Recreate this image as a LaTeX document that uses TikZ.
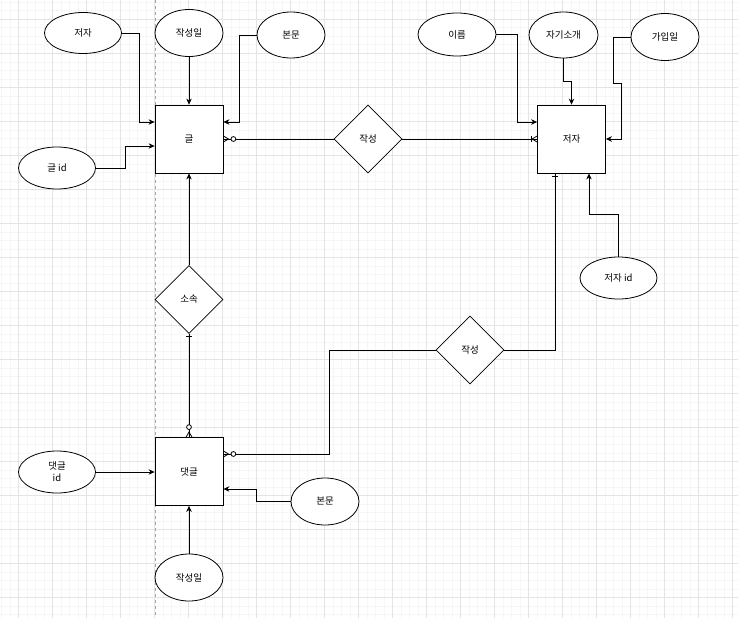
\documentclass[tikz,border=0pt]{standalone}
\usepackage{fontspec}
\newfontfamily\kr{Noto Sans CJK KR}
\usetikzlibrary{shapes.geometric,arrows.meta}
\definecolor{gridmajor}{RGB}{228,228,228}
\definecolor{gridminor}{RGB}{246,246,246}
\begin{document}
\begin{tikzpicture}[x=1pt,y=-1pt,
  every node/.style={font=\kr\fontsize{9.5}{12}\selectfont},
  conn/.style={line width=0.8pt, draw=black},
  ent/.style={conn, rectangle, minimum width=68pt, minimum height=68pt, inner sep=0pt},
  attr/.style={conn, ellipse, inner sep=0pt},
  rel/.style={conn, diamond, minimum width=68pt, minimum height=68pt, inner sep=0pt},
  arr/.style={conn, -{Stealth[length=6pt,width=5.5pt]}},
  ring/.style={conn, fill=white},
]
% background and grid
\fill[white] (0,0) rectangle (738,618);
\useasboundingbox (0,0) rectangle (738,618);
\foreach \i in {0,...,86} \draw[gridminor, line width=0.6pt] ({1.3+8.5*\i},0) -- ++(0,618);
\foreach \i in {0,...,72} \draw[gridminor, line width=0.6pt] (0,{2.3+8.5*\i}) -- ++(738,0);
\foreach \i in {0,...,21} \draw[gridmajor, line width=0.7pt] ({18.3+34.02*\i},0) -- ++(0,618);
\foreach \i in {0,...,17} \draw[gridmajor, line width=0.7pt] (0,{19.3+34*\i}) -- ++(738,0);
\draw[gray!70, line width=0.5pt, dash pattern=on 3pt off 3pt] (155,0) -- (155,618);

% entities
\node[ent, fill=white] (g) at (189,139) {글};
\node[ent, fill=white] (w) at (571.5,139) {저자};
\node[ent, fill=white] (c) at (189,471.5) {댓글};
% relations
\node[rel, fill=white] (r1) at (368,139) {작성};
\node[rel, fill=white] (r2) at (470,350) {작성};
\node[rel, fill=white] (r3) at (189,299.5) {소속};
% attributes
\node[attr, fill=white, minimum width=77pt, minimum height=41pt] (a1) at (83,33) {저자};
\node[attr, fill=white, minimum width=68pt, minimum height=47pt] (a2) at (189,33) {작성일};
\node[attr, fill=white, minimum width=68pt, minimum height=46pt] (a3) at (291,35) {본문};
\node[attr, fill=white, minimum width=77pt, minimum height=42pt] (a4) at (57,168) {글 id};
\node[attr, fill=white, minimum width=78pt, minimum height=43pt] (b1) at (457,34.5) {이름};
\node[attr, fill=white, minimum width=69pt, minimum height=46pt] (b2) at (563.5,35) {자기소개};
\node[attr, fill=white, minimum width=68pt, minimum height=47pt] (b3) at (665,37) {가입일};
\node[attr, fill=white, minimum width=77pt, minimum height=42pt] (b4) at (618.5,278) {저자 id};
\node[attr, fill=white, minimum width=77pt, minimum height=42pt, align=center] (c1) at (57,472) {댓글\\id};
\node[attr, fill=white, minimum width=68pt, minimum height=47pt] (c2) at (325,501.5) {본문};
\node[attr, fill=white, minimum width=68pt, minimum height=47pt] (c3) at (189,577.5) {작성일};

% attribute connectors
\draw[arr] (a1.east) -- ++(17,0) |- ([yshift=17pt]g.west);
\draw[arr] (a2.south) -- (g.north);
\draw[arr] (a3.west) -- ++(-17,0) |- ([yshift=17pt]g.east);
\draw[arr] (a4.east) -- ++(29,0) |- ([yshift=-7pt]g.west);
\draw[arr] (b1.east) -- ++(20.5,0) |- ([yshift=17pt]w.west);
\draw[arr] (b2.south) -- ++(0,23) -| (w.north);
\draw[arr] (b3.west) -- ++(-17,0) -- ++(0,46) -- ++(8,0) |- (w.east);
\draw[arr] (b4.north) -- ++(0,-42) -| ([xshift=17.5pt]w.south);
\draw[arr] (c1.east) -- (c.west |- c1.east);
\draw[arr] (c2.west) -- ++(-34,0) |- ([yshift=-17.5pt]c.east);
\draw[arr] (c3.north) -- (c.south);

% relationship connectors
\draw[conn] (g.east) -- (r1.west);
\draw[conn] (r1.east) -- (w.west);
\draw[arr] (r3.north) -- (g.south);
\draw[conn] (r3.south) -- (c.north);
\draw[conn] ([yshift=17.5pt]c.east) -- ++(106,0) |- (r2.west);
\draw[conn] (r2.east) -| ([xshift=-16.5pt]w.south);

% ER marks: zero-to-many at 글 (right)
\draw[conn] ([yshift=3pt]g.east) -- ++(5,3) -- ++(-5,3);
\draw[ring] ([xshift=10pt]g.east) circle[radius=2.4pt];
% one-to-many at 저자 (left)
\draw[conn] ([yshift=3pt]w.west) -- ++(-5,3) -- ++(5,3);
\draw[conn] ([xshift=-6pt,yshift=3.2pt]w.west) -- ++(0,6.4);
% one at 저자 (bottom)
\draw[conn] ([xshift=-16.5pt,yshift=-2.7pt]w.south) ++(-3.2,0) -- ++(6.4,0);
% one at 소속 (bottom)
\draw[conn] ([yshift=-2.7pt]r3.south) ++(-3.2,0) -- ++(6.4,0);
% zero-to-many at 댓글 (top)
\draw[conn] ([xshift=-3pt]c.north) -- ++(3,-5) -- ++(3,5);
\draw[ring] ([yshift=10pt]c.north) circle[radius=2.4pt];
% zero-to-many at 댓글 (right)
\draw[conn] ([yshift=20.5pt]c.east) -- ++(5,3) -- ++(-5,3);
\draw[ring] ([xshift=10pt,yshift=17.5pt]c.east) circle[radius=2.4pt];
\end{tikzpicture}
\end{document}
